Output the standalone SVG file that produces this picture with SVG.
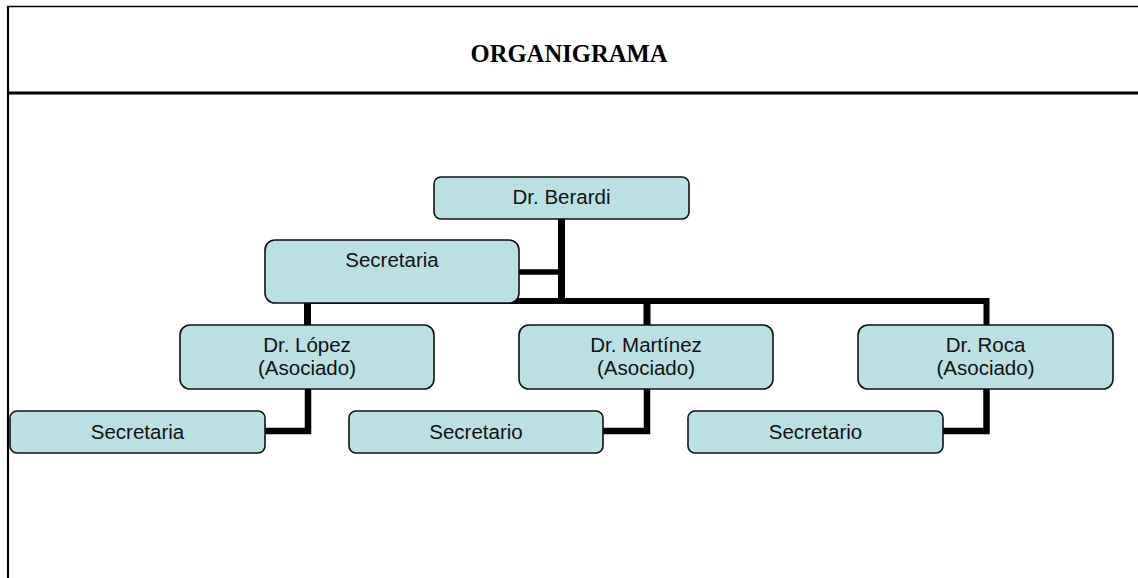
<svg xmlns="http://www.w3.org/2000/svg" width="1138" height="578" viewBox="0 0 1138 578">
  <style>
    .frame { stroke: #000; fill: none; }
    .box { fill: #bbe0e3; stroke: #111; stroke-width: 1.6; }
    .lbl { font-family: "Liberation Sans", Arial, sans-serif; font-size: 20.5px; fill: #111; text-anchor: middle; }
    .title { font-family: "Liberation Serif", "Times New Roman", serif; font-size: 26px; font-weight: bold; fill: #000; text-anchor: middle; }
    .link { stroke: #000; fill: none; stroke-linejoin: miter; stroke-linecap: butt; }
  </style>
  <rect width="1138" height="578" fill="#fff"/>

  <!-- page frame and title band -->
  <g id="frame">
    <line class="frame" x1="7" y1="6.5" x2="1138" y2="6.5" stroke-width="1.5"/>
    <line class="frame" x1="8" y1="6" x2="8" y2="578" stroke-width="2.2"/>
    <line class="frame" x1="7" y1="93" x2="1138" y2="93" stroke-width="3"/>
    <text class="title" x="569" y="62" textLength="197" lengthAdjust="spacingAndGlyphs">ORGANIGRAMA</text>
  </g>

  <!-- connectors -->
  <g id="connectors">
    <path class="link" d="M561.5 218 V301" stroke-width="7"/>
    <path class="link" d="M519 272 H561.5" stroke-width="5.5"/>
    <path class="link" d="M307.5 301 H986.5 V325" stroke-width="6"/>
    <path class="link" d="M307.5 301 V325" stroke-width="7"/>
    <path class="link" d="M647 301 V325" stroke-width="7"/>
    <path class="link" d="M308 389 V431 H265" stroke-width="6.5"/>
    <path class="link" d="M647 389 V431 H603" stroke-width="6.5"/>
    <path class="link" d="M986.5 389 V431 H943" stroke-width="6.5"/>
  </g>

  <g id="berardi">
    <rect class="box" x="434" y="177" width="255" height="42" rx="7"/>
    <text class="lbl" x="561.5" y="204">Dr. Berardi</text>
  </g>
  <g id="secretaria-berardi">
    <rect class="box" x="265" y="240" width="254" height="63" rx="10"/>
    <text class="lbl" x="392" y="267">Secretaria</text>
  </g>

  <g id="lopez">
    <rect class="box" x="180" y="325" width="254" height="64" rx="10"/>
    <text class="lbl" x="307" y="352">Dr. López</text>
    <text class="lbl" x="307" y="375">(Asociado)</text>
  </g>
  <g id="martinez">
    <rect class="box" x="519" y="325" width="254" height="64" rx="10"/>
    <text class="lbl" x="646" y="352">Dr. Martínez</text>
    <text class="lbl" x="646" y="375">(Asociado)</text>
  </g>
  <g id="roca">
    <rect class="box" x="858" y="325" width="255" height="64" rx="10"/>
    <text class="lbl" x="985.5" y="352">Dr. Roca</text>
    <text class="lbl" x="985.5" y="375">(Asociado)</text>
  </g>

  <g id="secretaria-lopez">
    <rect class="box" x="10" y="411" width="255" height="42" rx="7"/>
    <text class="lbl" x="137.5" y="439">Secretaria</text>
  </g>
  <g id="secretario-martinez">
    <rect class="box" x="349" y="411" width="254" height="42" rx="7"/>
    <text class="lbl" x="476" y="439">Secretario</text>
  </g>
  <g id="secretario-roca">
    <rect class="box" x="688" y="411" width="255" height="42" rx="7"/>
    <text class="lbl" x="815.5" y="439">Secretario</text>
  </g>
</svg>
